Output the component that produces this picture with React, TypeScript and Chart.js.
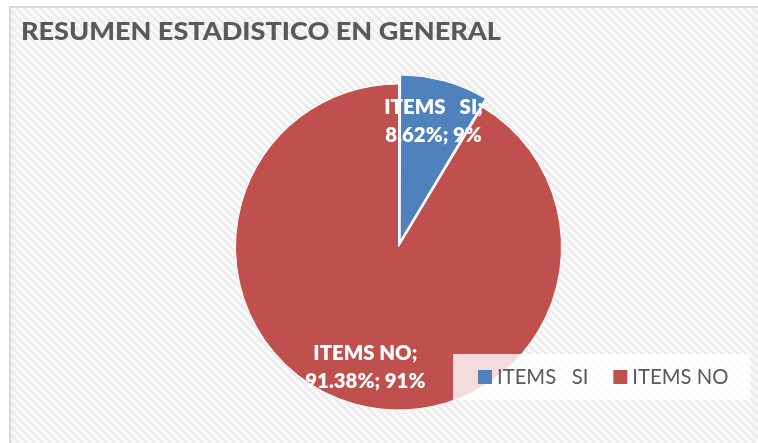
import { useEffect, useRef } from "react";
import { Chart, registerables } from "chart.js";

Chart.register(...registerables);

const chartTitle = "RESUMEN ESTADISTICO EN GENERAL";
const categories = ["ITEMS   SI", "ITEMS NO"];
const percentages = [8.62, 91.38];
const roundedPercent = [9, 91];
const sliceColors = ["#4F81BD", "#C0504D"];

const FAMILY = "Lato, 'Open Sans', sans-serif";
const CAP = 0.7165;

// draw text with a given cap height, horizontally squeezed by factor sx
function drawText(
  ctx: CanvasRenderingContext2D,
  text: string,
  x: number,
  y: number,
  weight: string,
  capH: number,
  sx: number,
  align: CanvasTextAlign
) {
  const size = capH / CAP;
  ctx.save();
  ctx.font = `${weight} ${size}px ${FAMILY}`;
  ctx.textAlign = align;
  ctx.textBaseline = "alphabetic";
  ctx.translate(x, y);
  ctx.scale(sx, 1);
  ctx.fillText(text, 0, 0);
  ctx.restore();
}

function squeeze(ctx: CanvasRenderingContext2D, text: string, weight: string, capH: number, width: number) {
  ctx.save();
  ctx.font = `${weight} ${capH / CAP}px ${FAMILY}`;
  const w = ctx.measureText(text).width;
  ctx.restore();
  return width / w;
}

function textWidth(ctx: CanvasRenderingContext2D, text: string, weight: string, capH: number, sx: number) {
  ctx.save();
  ctx.font = `${weight} ${capH / CAP}px ${FAMILY}`;
  const w = ctx.measureText(text).width * sx;
  ctx.restore();
  return w;
}

export default function App() {
  const ref = useRef<HTMLCanvasElement>(null);

  useEffect(() => {
    document.body.style.margin = "0";
    const canvas = ref.current!;

    const bgPlugin = {
      id: "bgPattern",
      beforeDraw(chart: any) {
        const ctx: CanvasRenderingContext2D = chart.ctx;
        const W = chart.width;
        const H = chart.height;
        ctx.save();
        ctx.fillStyle = "#ffffff";
        ctx.fillRect(0, 0, W, H);
        const tile = document.createElement("canvas");
        tile.width = 8;
        tile.height = 8;
        const t = tile.getContext("2d")!;
        t.fillStyle = "#f9f9f9";
        t.fillRect(0, 0, 8, 8);
        t.strokeStyle = "#ebebeb";
        t.lineWidth = 2.5;
        for (const o of [-8, 0, 8]) {
          t.beginPath();
          t.moveTo(o, 0);
          t.lineTo(o + 8, 8);
          t.stroke();
        }
        const pat = ctx.createPattern(tile, "repeat")!;
        ctx.fillStyle = pat;
        ctx.fillRect(10, 7, W, H);
        ctx.strokeStyle = "#d9d9d9";
        ctx.lineWidth = 2;
        ctx.strokeRect(10, 7, W + 10, H + 10);
        ctx.restore();

        const sx = squeeze(ctx, chartTitle, "900", 17, 480);
        ctx.fillStyle = "#595959";
        drawText(ctx, chartTitle, 21, 39.5, "900", 17, sx, "left");
      },
    };

    const labelRadius = [0.805, 0.76];
    const labelsPlugin = {
      id: "sliceLabels",
      afterDatasetsDraw(chart: any) {
        const ctx: CanvasRenderingContext2D = chart.ctx;
        const meta = chart.getDatasetMeta(0);
        const capH = 15;
        const sx = squeeze(ctx, `${categories[1]};`, "800", capH, 104);
        const lineH = 28.5;
        ctx.save();
        ctx.fillStyle = "#ffffff";
        meta.data.forEach((arc: any, i: number) => {
          const p = arc.getProps(["x", "y", "startAngle", "endAngle", "outerRadius"], true);
          const mid = (p.startAngle + p.endAngle) / 2;
          const r = p.outerRadius * labelRadius[i];
          const cx = p.x + Math.cos(mid) * r;
          const cy = p.y + Math.sin(mid) * r;
          const lines = [`${categories[i]};`, `${percentages[i].toFixed(2)}%; ${roundedPercent[i]}%`];
          const b1 = cy - lineH / 2 + capH / 2;
          lines.forEach((ln, k) => drawText(ctx, ln, cx, b1 + k * lineH, "800", capH, sx, "center"));
        });
        ctx.restore();
      },
      afterDraw(chart: any) {
        const ctx: CanvasRenderingContext2D = chart.ctx;
        const items = chart.options.plugins.legend.labels.generateLabels(chart);
        ctx.save();
        ctx.fillStyle = "rgba(255,255,255,0.8)";
        ctx.fillRect(453, 354, 297, 46);
        const capH = 15.5;
        const sx = squeeze(ctx, categories[1], "normal", capH, 96);
        let x = 478;
        items.forEach((it: any) => {
          ctx.fillStyle = it.fillStyle;
          ctx.fillRect(x, 370, 14, 14);
          ctx.fillStyle = "#595959";
          drawText(ctx, it.text, x + 19, 384, "normal", capH, sx, "left");
          x += 19 + textWidth(ctx, it.text, "normal", capH, sx) + 25;
        });
        ctx.restore();
      },
    };

    const chart = new Chart(canvas, {
      type: "pie",
      data: {
        labels: categories,
        datasets: [
          {
            data: percentages,
            backgroundColor: sliceColors,
            borderColor: "#ffffff",
            borderWidth: 1,
            offset: [25, 0],
          },
        ],
      },
      options: {
        responsive: false,
        animation: false,
        radius: 163,
        layout: { padding: { left: 59, right: 20, top: 71, bottom: 20 } },
        plugins: {
          legend: { display: false },
          tooltip: { enabled: false },
          title: { display: false },
        },
      } as any,
      plugins: [bgPlugin, labelsPlugin],
    });

    return () => chart.destroy();
  }, []);

  return (
    <div style={{ position: "absolute", left: 0, top: 0, width: 758, height: 443 }}>
      <canvas ref={ref} width={758} height={443} style={{ display: "block" }} />
    </div>
  );
}
